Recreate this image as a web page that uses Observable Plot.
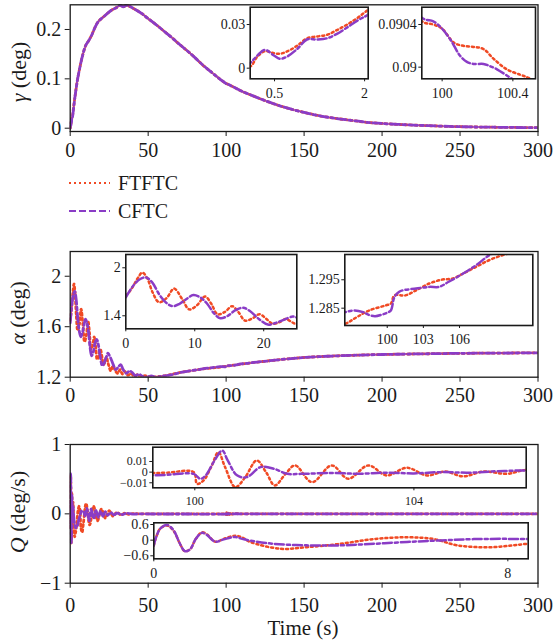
<!DOCTYPE html>
<html><head><meta charset="utf-8">
<script src="https://cdn.jsdelivr.net/npm/d3@7"></script>
<script src="https://cdn.jsdelivr.net/npm/@observablehq/plot@0.6"></script>
<style>
body{margin:0;background:#fff;}
#root{position:relative;width:554px;height:641px;overflow:hidden;font-family:"Liberation Serif",serif;color:#1a1a1a;}
#root svg{position:absolute;left:0;top:0;}
#root svg text{font-family:"Liberation Serif","DejaVu Serif",serif !important;}
.ylab{position:absolute;font-size:22px;white-space:nowrap;transform:translate(-50%,-50%) rotate(-90deg);}
.txt{position:absolute;font-size:20px;white-space:nowrap;transform:translateY(-50%);}
</style></head>
<body><div id="root"></div>
<script>
// ---------- gamma (deg) ----------
const gammaEarlyT  = [0, 0.11, 0.21, 0.34, 0.49, 0.59, 0.71, 0.88, 1.04, 1.21, 1.38, 1.54, 1.71, 1.88, 2.06];
const gammaEarlyFT = [0, 0.0015, 0.0077, 0.0117, 0.0103, 0.0099, 0.0115, 0.0155, 0.0205, 0.0218, 0.0230, 0.0262, 0.0300, 0.0345, 0.0400];
const gammaEarlyCF = [0, 0.0041, 0.0085, 0.0126, 0.0087, 0.0064, 0.0080, 0.0133, 0.0197, 0.0197, 0.0206, 0.0236, 0.0280, 0.0327, 0.0368];
const gammaMainT = [3, 4.5, 6, 8, 10, 12, 14, 16, 18, 20, 23, 26, 30, 32, 34, 36, 38, 42, 46, 50, 55, 60, 65, 70, 75, 80, 85, 90, 95, 99];
const gammaMain  = [0.062, 0.095, 0.12, 0.148, 0.168, 0.178, 0.19, 0.205, 0.216, 0.222, 0.230, 0.238, 0.245, 0.249, 0.246, 0.249, 0.247, 0.240, 0.232, 0.222, 0.210, 0.197, 0.184, 0.170, 0.157, 0.143, 0.128, 0.115, 0.102, 0.0925];
const gammaZoomT_FT = [99.885, 99.95, 100, 100.066, 100.12, 100.177, 100.234, 100.29, 100.365, 100.44, 100.488, 100.6];
const gammaZoomFT   = [0.090431, 0.09040, 0.09036, 0.09023, 0.09020, 0.09019, 0.09017, 0.09008, 0.08998, 0.08993, 0.08990, 0.08978];
const gammaZoomT_CF = [99.885, 99.95, 100, 100.05, 100.1, 100.14, 100.177, 100.234, 100.27, 100.31, 100.387, 100.45, 100.6];
const gammaZoomCF   = [0.090463, 0.09043, 0.09036, 0.09025, 0.09011, 0.09005, 0.09003, 0.09003, 0.09001, 0.08998, 0.08990, 0.08984, 0.08970];
const gammaLateT = [101.5, 105, 110, 120, 130, 140, 150, 160, 170, 180, 190, 200, 215, 230, 250, 270, 300];
const gammaLate  = [0.0885, 0.083, 0.075, 0.062, 0.05, 0.04, 0.032, 0.025, 0.02, 0.016, 0.012, 0.0095, 0.007, 0.005, 0.003, 0.002, 0.001];

// ---------- alpha (deg) ----------
const alphaEarlyT_FT = [0, 0.6, 1.2, 1.8, 2.4, 3.1, 3.9, 4.8, 5.9, 7.0, 8.1, 9.2, 10.3, 11.5, 12.4, 13.3, 14.4, 15.4, 16.3, 17.3, 18.4, 19.4, 20.4, 21.3, 22.3, 23.2, 24.1, 24.8];
const alphaEarlyFT   = [1.65, 1.71, 1.79, 1.88, 1.94, 1.87, 1.69, 1.57, 1.62, 1.74, 1.62, 1.48, 1.53, 1.64, 1.55, 1.42, 1.45, 1.52, 1.45, 1.34, 1.37, 1.42, 1.36, 1.30, 1.32, 1.36, 1.32, 1.29];
const alphaEarlyT_CF = [0, 0.7, 1.4, 2.1, 2.9, 3.8, 4.9, 5.9, 6.8, 7.8, 8.8, 9.8, 10.8, 11.8, 12.8, 13.7, 14.8, 15.9, 17.0, 18.0, 19.3, 20.6, 21.7, 22.9, 24.2, 24.8];
const alphaEarlyCF   = [1.63, 1.73, 1.81, 1.86, 1.88, 1.82, 1.66, 1.56, 1.52, 1.55, 1.61, 1.66, 1.63, 1.55, 1.43, 1.37, 1.40, 1.47, 1.50, 1.46, 1.36, 1.29, 1.31, 1.35, 1.39, 1.38];
const alphaMidT_FT = [26, 27.5, 29, 30.5, 32, 33.5, 35, 37, 39, 41, 43, 45, 48, 52, 56, 60, 65, 70, 75, 80, 85, 90, 94];
const alphaMidFT   = [1.25, 1.29, 1.25, 1.23, 1.26, 1.225, 1.245, 1.215, 1.232, 1.205, 1.22, 1.203, 1.212, 1.2, 1.205, 1.21, 1.222, 1.236, 1.247, 1.256, 1.265, 1.272, 1.277];
const alphaMidT_CF = [26, 27.6, 29.2, 30.8, 32.4, 34, 36, 38, 40, 42, 44, 46, 49, 52, 55, 58, 62, 66, 70, 75, 80, 85, 90, 94];
const alphaMidCF   = [1.35, 1.30, 1.26, 1.28, 1.30, 1.26, 1.23, 1.25, 1.235, 1.21, 1.225, 1.21, 1.2, 1.21, 1.2, 1.207, 1.213, 1.222, 1.235, 1.247, 1.256, 1.266, 1.274, 1.28];
const alphaZoomT_FT = [96.5, 97.5, 98.5, 99.9, 100.3, 100.6, 101.5, 102.4, 103.5, 104.6, 105.4, 106.3, 107.4, 108.5, 109.6, 110.6];
const alphaZoomFT   = [1.2795, 1.2819, 1.2842, 1.2860, 1.2866, 1.2895, 1.2895, 1.2913, 1.2937, 1.2951, 1.2954, 1.2972, 1.2996, 1.3020, 1.3037, 1.3050];
const alphaZoomT_CF = [96.5, 97.3, 98.0, 98.5, 99.0, 99.6, 100.0, 100.3, 100.6, 101.0, 101.3, 102.4, 103.5, 104.3, 105.1, 106.3, 107.4, 108.5, 109.6];
const alphaZoomCF   = [1.2836, 1.2842, 1.2836, 1.2826, 1.2822, 1.2828, 1.2834, 1.2842, 1.2889, 1.2908, 1.2913, 1.2919, 1.2925, 1.2925, 1.2943, 1.2972, 1.3002, 1.3037, 1.3055];
const alphaLateT = [113, 116, 120, 130, 140, 150, 165, 180, 200, 225, 250, 275, 300];
const alphaLate  = [1.309, 1.314, 1.32, 1.333, 1.346, 1.356, 1.366, 1.373, 1.38, 1.385, 1.389, 1.391, 1.393];

// ---------- Q (deg/s) ----------
const qEarlyT_FT = [0, 0.05, 0.15, 0.3, 0.45, 0.58, 0.7, 0.82, 0.95, 1.09, 1.2, 1.39, 1.58, 1.84, 2.0, 2.18, 2.86, 3.46, 4.22, 4.97, 5.72, 6.33, 6.86, 7.61, 8.44];
const qEarlyFT   = [-0.2, 0.1, 0.45, 0.56, 0.35, -0.1, -0.42, -0.35, 0.05, 0.3, 0.22, -0.06, 0.05, 0.17, 0.1, -0.07, -0.33, -0.27, -0.14, 0.04, 0.11, 0.04, -0.2, -0.27, -0.14];
const qEarlyT_CF = [0, 0.05, 0.15, 0.3, 0.45, 0.58, 0.7, 0.82, 0.95, 1.09, 1.2, 1.39, 1.58, 1.84, 2.0, 2.18, 2.71, 3.46, 4.22, 4.97, 5.72, 6.48, 7.23, 8.44];
const qEarlyCF   = [-0.2, 0.1, 0.45, 0.58, 0.37, -0.1, -0.42, -0.35, 0.05, 0.28, 0.2, -0.06, 0.03, 0.12, 0.05, -0.02, -0.14, -0.2, -0.2, -0.14, -0.07, -0.01, 0.04, 0.04];
const qMidT_FT = [10.2, 12.5, 15, 17.5, 20, 22.5, 25, 27.5, 30, 32.5, 35, 37.5, 40, 45, 55, 70, 85, 99];
const qMidFT   = [0.15, -0.16, 0.11, -0.1, 0.07, -0.06, 0.045, -0.035, 0.025, -0.018, 0.012, -0.008, 0.004, 0, -0.001, 0, -0.001, -0.001];
const qMidT_CF = [9.5, 10.7, 12.1, 13.5, 15, 16.5, 18, 19.5, 21, 22.5, 24, 26, 28, 30, 33, 36, 40, 45, 55, 70, 85, 99];
const qMidCF   = [-0.03, 0.08, -0.1, 0.07, -0.07, 0.05, -0.05, 0.04, -0.035, 0.03, -0.02, 0.02, -0.015, 0.01, -0.01, 0.008, -0.004, 0, -0.002, -0.002, -0.003, -0.003];
const qZoomT_FT = [99.24, 99.5, 99.98, 100.04, 100.16, 100.3, 100.43, 100.55, 100.74, 100.92, 101.13, 101.3, 101.46, 101.65, 101.83, 102.14, 102.5, 102.8, 103.17, 103.5, 103.87, 104.24, 104.57, 104.9, 105.27, 105.7, 106.05];
const qZoomFT   = [-0.0009, -0.0005, 0, -0.011, -0.0078, 0.005, 0.0187, 0.005, -0.0141, -0.0047, 0.011, 0.0, -0.0125, -0.002, 0.0063, -0.0094, 0.0063, -0.0062, 0.0063, -0.0031, 0.0041, -0.0031, 0.0006, -0.004, 0.0006, -0.0016, 0.0022];
const qZoomT_CF = [99.24, 99.5, 99.98, 100.1, 100.2, 100.35, 100.5, 100.6, 100.77, 100.95, 101.2, 101.45, 101.69, 101.94, 102.5, 103, 103.5, 104, 104.5, 105, 105.5, 106.05];
const qZoomCF   = [-0.003, -0.0025, -0.0016, -0.0063, -0.003, 0.01, 0.0203, 0.011, -0.003, -0.0047, 0.0047, 0.003, -0.0016, -0.0016, -0.0008, -0.0015, -0.0005, -0.0012, 0.0, -0.0005, 0.0008, 0.0016];
const qLateT = [108, 115, 130, 160, 200, 250, 300];
const qLate  = [0.001, 0, 0, 0, 0, 0, 0];

// ---------- ticks ----------
const mainXTicks = [0, 50, 100, 150, 200, 250, 300];
const gammaYTicks = [0, 0.1, 0.2];
const alphaYTicks = [1.2, 1.6, 2];
const qYTicks = [-1, 0, 1];
const gIn1XTicks = [0.5, 2], gIn1YTicks = [0, 0.03];
const gIn2XTicks = [100, 100.4], gIn2YTicks = [0.09, 0.0904];
const aIn1XTicks = [0, 10, 20], aIn1YTicks = [1.4, 2];
const aIn2XTicks = [100, 103, 106], aIn2YTicks = [1.285, 1.295];
const qIn1XTicks = [100, 104], qIn1YTicks = [-0.01, 0, 0.01];
const qIn2XTicks = [0, 8], qIn2YTicks = [-0.6, 0, 0.6];

const seriesNames = ["FTFTC", "CFTC"];

// ---------- build ----------
const rows = (t, v) => t.map((x, i) => ({t: x, v: v[i]}));
const gammaFT = [...rows(gammaEarlyT, gammaEarlyFT), ...rows(gammaMainT, gammaMain), ...rows(gammaZoomT_FT, gammaZoomFT), ...rows(gammaLateT, gammaLate)];
const gammaCF = [...rows(gammaEarlyT, gammaEarlyCF), ...rows(gammaMainT, gammaMain), ...rows(gammaZoomT_CF, gammaZoomCF), ...rows(gammaLateT, gammaLate)];
const alphaFT = [...rows(alphaEarlyT_FT, alphaEarlyFT), ...rows(alphaMidT_FT, alphaMidFT), ...rows(alphaZoomT_FT, alphaZoomFT), ...rows(alphaLateT, alphaLate)];
const alphaCF = [...rows(alphaEarlyT_CF, alphaEarlyCF), ...rows(alphaMidT_CF, alphaMidCF), ...rows(alphaZoomT_CF, alphaZoomCF), ...rows(alphaLateT, alphaLate)];
const qFT = [...rows(qEarlyT_FT, qEarlyFT), ...rows(qMidT_FT, qMidFT), ...rows(qZoomT_FT, qZoomFT), ...rows(qLateT, qLate)];
const qCF = [...rows(qEarlyT_CF, qEarlyCF), ...rows(qMidT_CF, qMidCF), ...rows(qZoomT_CF, qZoomCF), ...rows(qLateT, qLate)];

const RED = "#f04a24", PURPLE = "#8a3cc6";
const RED_DASH = "2,3", PURPLE_DASH = "9,3,3,3";
const SERIF = "'Liberation Serif', 'DejaVu Serif', serif";
const W = 554, H = 641;
const fmt = d => String(d).replace("-", "\u2212");

function panel(o) {
  const lw = o.lw;
  const svg = Plot.plot({
    width: W, height: H,
    marginLeft: o.box[0], marginRight: W - o.box[1], marginTop: o.box[2], marginBottom: H - o.box[3],
    style: {background: "transparent", fontFamily: SERIF, fontSize: o.font + "px", color: "#1a1a1a", overflow: "visible"},
    x: {domain: o.xd, ticks: o.xt, tickFormat: fmt, tickSize: o.ts, tickPadding: o.xpad, label: null},
    y: {domain: o.yd, ticks: o.yt, tickFormat: fmt, tickSize: o.ts, tickPadding: o.ypad, label: null},
    marks: [
      o.inset ? Plot.frame({fill: "white", stroke: "none"}) : null,
      Plot.line(o.red, {x: "t", y: "v", stroke: RED, strokeWidth: lw, strokeDasharray: RED_DASH, curve: "catmull-rom", clip: true}),
      Plot.line(o.purple, {x: "t", y: "v", stroke: PURPLE, strokeWidth: lw, strokeDasharray: PURPLE_DASH, curve: "catmull-rom", clip: true}),
      Plot.frame({stroke: "#1a1a1a", strokeWidth: o.inset ? 1.6 : 1.3})
    ].filter(Boolean)
  });
  d3.select(svg).selectAll("g, text")
    .attr("font-family", SERIF)
    .style("font-family", SERIF)
    .style("font-size", o.font + "px");
  return svg;
}

const root = document.getElementById("root");
const main = {font: 20, ts: 5, ypad: 4, lw: 2.8, xd: [0, 300], xt: mainXTicks};
const ins = {font: 14, ts: 3, ypad: 2, xpad: 6, lw: 2.5, inset: true};

const panels = [
  {...main, box: [69.7, 537.5, 4.3, 131], xpad: 6, yd: [-0.0067, 0.25], yt: gammaYTicks, red: gammaFT, purple: gammaCF},
  {...main, box: [69.7, 537.5, 251, 376.7], xpad: 6, yd: [1.2, 2.196], yt: alphaYTicks, red: alphaFT, purple: alphaCF},
  {...main, box: [69.7, 537.5, 444, 582.7], xpad: 10, yd: [-1, 1], yt: qYTicks, red: qFT, purple: qCF},
  {...ins, box: [249.7, 367.7, 6.7, 78.3], xd: [0.095, 2.06], xt: gIn1XTicks, yd: [-0.0073, 0.0419], yt: gIn1YTicks, red: gammaFT, purple: gammaCF},
  {...ins, box: [421.3, 535, 6.7, 78.3], xd: [99.885, 100.528], xt: gIn2XTicks, yd: [0.089891, 0.090562], yt: gIn2YTicks, red: gammaFT, purple: gammaCF},
  {...ins, box: [125.3, 296.3, 254, 328.3], xd: [0, 24.8], xt: aIn1XTicks, yd: [1.2375, 2.166], yt: aIn1YTicks, red: alphaFT, purple: alphaCF},
  {...ins, box: [344.3, 532.3, 254, 325], xd: [96.48, 112.08], xt: aIn2XTicks, yd: [1.2789, 1.3039], yt: aIn2YTicks, red: alphaFT, purple: alphaCF},
  {...ins, font: 12, box: [152.3, 525.7, 446.7, 487.3], xd: [99.233, 106.05], xt: qIn1XTicks, yd: [-0.0147, 0.0234], yt: qIn1YTicks, red: qFT, purple: qCF},
  {...ins, box: [153.3, 527.7, 522.3, 558.3], xd: [0, 8.46], xt: qIn2XTicks, yd: [-0.715, 0.665], yt: qIn2YTicks, red: qFT, purple: qCF}
];
for (const p of panels) root.appendChild(panel(p));

// axis titles
function addText(cls, html, x, y) {
  const d = document.createElement("div");
  d.className = cls; d.innerHTML = html;
  d.style.left = x + "px"; d.style.top = y + "px";
  root.appendChild(d);
}
addText("ylab", "<i>\u03b3</i> (deg)", 19, 72);
addText("ylab", "<i>\u03b1</i> (deg)", 18, 313);
addText("ylab", "<i>Q</i> (deg/s)", 18, 512);
const tl = document.createElement("div");
tl.className = "txt"; tl.textContent = "Time (s)";
tl.style.left = "303px"; tl.style.top = "628px"; tl.style.fontSize = "21px";
tl.style.transform = "translate(-50%,-50%)";
root.appendChild(tl);

// legend
const legend = [[seriesNames[0], RED, RED_DASH, 183], [seriesNames[1], PURPLE, "7,3", 211]];
for (const [name, col, dash, y] of legend) {
  const s = document.createElementNS("http://www.w3.org/2000/svg", "svg");
  s.setAttribute("width", 44); s.setAttribute("height", 6);
  s.style.left = "68px"; s.style.top = (y - 3) + "px";
  const l = document.createElementNS("http://www.w3.org/2000/svg", "line");
  l.setAttribute("x1", 1); l.setAttribute("x2", 42); l.setAttribute("y1", 3); l.setAttribute("y2", 3);
  l.setAttribute("stroke", col); l.setAttribute("stroke-width", 2); l.setAttribute("stroke-dasharray", dash);
  s.appendChild(l); root.appendChild(s);
  addText("txt", name, 118, y);
}
</script></body></html>
